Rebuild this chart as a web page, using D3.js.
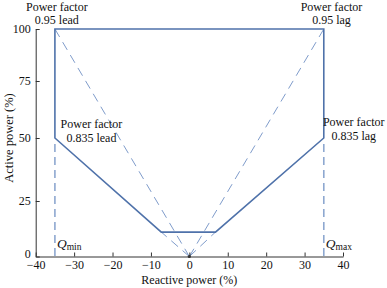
<!DOCTYPE html>
<html>
<head>
<meta charset="utf-8">
<script src="https://cdn.jsdelivr.net/npm/d3@7"></script>
<style>
  body { margin: 0; background: #fff; }
  svg text { font-family: "Liberation Serif", "Times New Roman", Times, serif; }
</style>
</head>
<body>
<svg width="387" height="288" viewBox="0 0 387 288"></svg>
<script>
// capability curve (reactive %, active %)
const capability = [[-35, 100], [35, 100], [35, 50], [6.8, 11], [-7.3, 11], [-35, 50]]
// dashed power-factor rays from origin
const rays = [[-35, 100], [35, 100], [-7.3, 11], [6.8, 11]]
// dashed limits Qmin / Qmax
const qLimits = [-35, 35]
const xTicks = [-40, -30, -20, -10, 0, 10, 20, 30, 40]
const yTicks = [0, 25, 50, 75, 100]
const labels = [
  { lines: ['Power factor', '0.95 lead'], x: -34.5, y: 100, dy: -18.5 },
  { lines: ['Power factor', '0.95 lag'], x: 37, y: 100, dy: -18.5 },
  { lines: ['Power factor', '0.835 lead'], x: -25.5, y: 50, dy: -10 },
  { lines: ['Power factor', '0.835 lag'], x: 42.8, y: 50, dy: -12 }
]

const serif = '"Liberation Serif", "Times New Roman", Times, serif'
const svg = d3.select('svg').attr('font-family', serif)
const x = d3.scaleLinear().domain([-40, 40]).range([35.7, 343])
// the printed y axis is not evenly spaced, follow its ticks
const y = d3.scaleLinear().domain([0, 25, 50, 75, 100]).range([256.5, 201, 138, 81, 29])

const solid = '#4f72aa'
const dashed = '#8ea8d0'

// dashed rays
svg.append('g').selectAll('line').data(rays).join('line')
  .attr('x1', x(0)).attr('y1', y(0))
  .attr('x2', d => x(d[0])).attr('y2', d => y(d[1]))
  .attr('stroke', '#7f9ccb').attr('stroke-width', 1)
  .attr('stroke-dasharray', '9,6')

// Q limits
svg.append('g').selectAll('line').data(qLimits).join('line')
  .attr('x1', d => x(d)).attr('x2', d => x(d))
  .attr('y1', y(50) + 6).attr('y2', y(0))
  .attr('stroke', dashed).attr('stroke-width', 1.6)
  .attr('stroke-dasharray', '8,5')

// capability polygon
svg.append('path')
  .datum(capability)
  .attr('d', d3.line().x(d => x(d[0])).y(d => y(d[1])).curve(d3.curveLinearClosed))
  .attr('fill', 'none')
  .attr('stroke', solid)
  .attr('stroke-width', 1.6)

// axes
const xAxis = d3.axisBottom(x).tickValues(xTicks).tickSizeInner(-4).tickSizeOuter(0).tickPadding(4)
const yAxis = d3.axisLeft(y).tickValues(yTicks).tickSizeInner(-4).tickSizeOuter(0).tickPadding(5)

const gx = svg.append('g').attr('transform', `translate(0,${y(0)})`).call(xAxis)
const gy = svg.append('g').attr('transform', `translate(${x(-40)},0)`).call(yAxis)
for (const g of [gx, gy]) {
  g.attr('font-family', serif).attr('font-size', 12)
  g.selectAll('path, line').attr('stroke', '#333')
  g.selectAll('text').attr('fill', '#111')
}
gy.selectAll('text').attr('dy', d => d === 0 ? '0.1em' : '0.28em')

svg.append('circle').attr('cx', x(0)).attr('cy', y(0)).attr('r', 1.6).attr('fill', '#333')

// axis titles
svg.append('text')
  .attr('x', x(0)).attr('y', 284)
  .attr('text-anchor', 'middle').attr('font-size', 12).attr('fill', '#111')
  .text('Reactive power (%)')
svg.append('text')
  .attr('transform', `translate(13,${y(50)}) rotate(-90)`)
  .attr('text-anchor', 'middle').attr('font-size', 12.5).attr('fill', '#111')
  .text('Active power (%)')

// power factor notes
labels.forEach(l => {
  const t = svg.append('text')
    .attr('text-anchor', 'middle').attr('font-size', 12).attr('fill', '#111')
  l.lines.forEach((s, i) => {
    t.append('tspan').attr('x', x(l.x)).attr('y', y(l.y) + l.dy + i * 13.5).text(s)
  })
})

// Qmin / Qmax
qLimits.forEach((q, i) => {
  const t = svg.append('text')
    .attr('x', x(q) + 2).attr('y', 248)
    .attr('font-size', 13.5).attr('fill', '#111')
  t.append('tspan').attr('font-style', 'italic').text('Q')
  t.append('tspan').attr('font-size', 9.5).attr('dy', 2).text(i === 0 ? 'min' : 'max')
})
</script>
</body>
</html>
